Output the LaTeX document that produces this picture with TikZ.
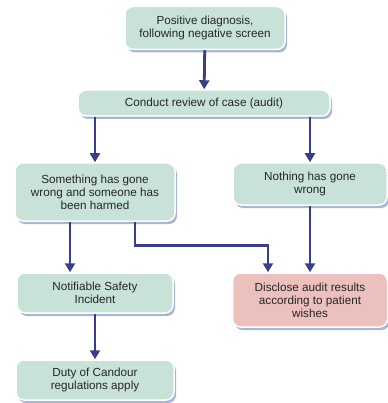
\documentclass[tikz,border=0pt]{standalone}
\usepackage{fontspec}
\setmainfont{Liberation Sans}
\usetikzlibrary{arrows.meta,positioning,shadows}
\definecolor{fcTeal}{HTML}{C8E2D7}
\definecolor{fcRose}{HTML}{ECC0BD}
\definecolor{fcNavy}{HTML}{393D8C}
\definecolor{fcInk}{HTML}{262626}
\definecolor{fcShade}{HTML}{8596C4}

\begin{document}
\begin{tikzpicture}[x=1pt,y=-1pt,
    stepbox/.style={rectangle, rounded corners=8pt, draw=white, line width=1.5pt,
      fill=fcTeal, text=fcInk, align=center, inner sep=2pt,
      font=\fontsize{11.7}{13}\selectfont,
      drop shadow={fill=fcShade, opacity=0.7, shadow xshift=2pt, shadow yshift=-3pt}},
    outbox/.style={stepbox, fill=fcRose},
    arr/.style={draw=fcNavy, line width=2.8pt, -{Triangle[width=10pt,length=9pt]}}]
  \useasboundingbox (0,0) rectangle (387,403);
  \node[stepbox, minimum width=160pt, minimum height=43pt] (diag) at (205,28)
    {Positive diagnosis,\\following negative screen};
  \node[stepbox, minimum width=252pt, minimum height=26pt] (review) at (204,103)
    {Conduct review of case (audit)};
  \node[stepbox, minimum width=160pt, minimum height=58pt] (harm) at (95,192)
    {Something has gone\\wrong and someone has\\been harmed};
  \node[stepbox, minimum width=154pt, minimum height=42pt] (none) at (310,184)
    {Nothing has gone\\wrong};
  \node[stepbox, minimum width=156pt, minimum height=40pt] (notif) at (95,293)
    {Notifiable Safety\\Incident};
  \node[outbox, minimum width=155pt, minimum height=54pt] (disc) at (310,300)
    {Disclose audit results\\according to patient\\wishes};
  \node[stepbox, minimum width=158pt, minimum height=40pt] (duty) at (95,380)
    {Duty of Candour\\regulations apply};

  \draw[arr] (diag) -- (review);
  \draw[arr] (review.south -| harm.north) -- (harm.north);
  \draw[arr] (review.south -| none.north) -- (none.north);
  \draw[arr] ([xshift=-25pt]harm.south) -- ([xshift=-25pt]notif.north);
  \draw[arr] ([xshift=40pt]harm.south) -- ++(0,24) -| ([xshift=-42pt]disc.north);
  \draw[arr] (none) -- (disc);
  \draw[arr] (notif) -- (duty);
\end{tikzpicture}
\end{document}
